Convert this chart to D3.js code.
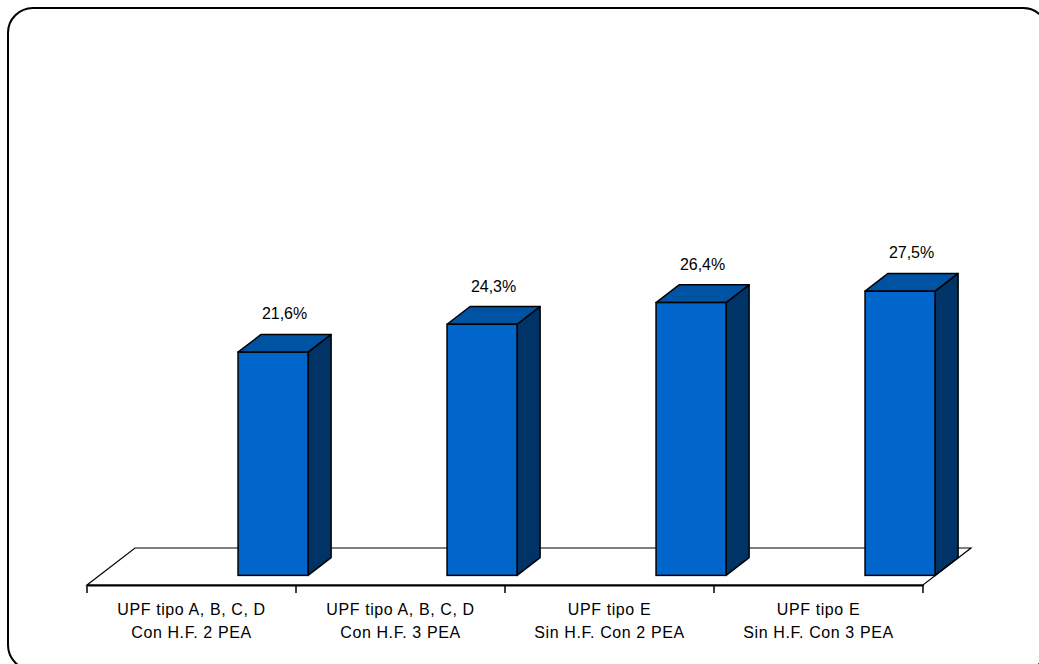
<!DOCTYPE html>
<html>
<head>
<meta charset="utf-8">
<script src="https://cdn.jsdelivr.net/npm/d3@7"></script>
<style>
  html, body { margin: 0; padding: 0; background: #fff; }
  svg { display: block; }
  text { font-family: Arial, "Liberation Sans", sans-serif; fill: #000; }
</style>
</head>
<body>
<svg id="chart" width="1039" height="664"></svg>
<script>
// ---- data ----
const categories = ["A", "B", "C", "D"];
const labelLine1 = ["UPF tipo A, B, C, D", "UPF tipo A, B, C, D", "UPF tipo E", "UPF tipo E"];
const labelLine2 = ["Con H.F. 2 PEA", "Con H.F. 3 PEA", "Sin H.F. Con 2 PEA", "Sin H.F. Con 3 PEA"];
const values = [21.6, 24.3, 26.4, 27.5];
const valueLabels = ["21,6%", "24,3%", "26,4%", "27,5%"];

// ---- layout ----
const svg = d3.select("#chart");
const floorFront = 585;          // front edge of floor
const depthDX = 48, depthDY = -37; // full floor depth projection
const barDepth0 = 0.26, barDepth1 = 0.74;
const barWidthFrac = 0.335, barStartFrac = 0.663;

const x = d3.scaleBand().domain(categories).range([87, 923]).padding(0);
const baseY = floorFront + depthDY * barDepth0; // bar front bottom
const y = d3.scaleLinear().domain([0, 30]).range([baseY, baseY - 310]);

const colFront = "#0066CC", colTop = "#0052A3", colSide = "#003366";

// outer rounded frame
svg.append("rect")
  .attr("x", 8).attr("y", 8).attr("width", 1040).attr("height", 662)
  .attr("rx", 25).attr("ry", 25)
  .attr("fill", "#fff").attr("stroke", "#000").attr("stroke-width", 2);

// floor
const x0 = x.range()[0], x1 = x.range()[1];
svg.append("path")
  .attr("d", `M${x0},${floorFront} L${x0 + depthDX},${floorFront + depthDY} L${x1 + depthDX},${floorFront + depthDY} L${x1},${floorFront} Z`)
  .attr("fill", "#fff").attr("stroke", "#000").attr("stroke-width", 1.2);

// category axis (front edge with ticks)
const axis = d3.axisBottom(x).tickSize(0).tickFormat("");
const axG = svg.append("g").attr("transform", `translate(0,${floorFront})`).call(axis);
axG.select(".domain").attr("stroke", "#000").attr("stroke-width", 2);
const tickPos = categories.map(c => x(c)).concat([x1]);
axG.selectAll("line.tk").data(tickPos).enter().append("line")
  .attr("class", "tk")
  .attr("x1", d => d).attr("x2", d => d)
  .attr("y1", 0).attr("y2", 8)
  .attr("stroke", "#000").attr("stroke-width", 1.5);

// category labels
const lab = svg.append("g");
categories.forEach((c, i) => {
  const cx = x(c) + x.bandwidth() / 2;
  const t = lab.append("text")
    .attr("text-anchor", "middle")
    .attr("font-size", 16)
    .attr("letter-spacing", 0.6);
  t.append("tspan").attr("x", cx).attr("y", 615).text(labelLine1[i]);
  t.append("tspan").attr("x", cx).attr("y", 638).text(labelLine2[i]);
});

// bars
const bw = x.bandwidth() * barWidthFrac;
const ddx = depthDX * (barDepth1 - barDepth0), ddy = depthDY * (barDepth1 - barDepth0);
const offX = depthDX * barDepth0;
const bars = svg.append("g").selectAll("g").data(values).enter().append("g");
bars.each(function (v, i) {
  const g = d3.select(this);
  const left = x(categories[i]) + x.bandwidth() * barStartFrac + offX;
  const right = left + bw;
  const top = y(v), bot = y(0);
  // side
  g.append("path")
    .attr("d", `M${right},${top} L${right + ddx},${top + ddy} L${right + ddx},${bot + ddy} L${right},${bot} Z`)
    .attr("fill", colSide).attr("stroke", "#000").attr("stroke-width", 1.5).attr("stroke-linejoin", "round");
  // top
  g.append("path")
    .attr("d", `M${left},${top} L${left + ddx},${top + ddy} L${right + ddx},${top + ddy} L${right},${top} Z`)
    .attr("fill", colTop).attr("stroke", "#000").attr("stroke-width", 1.5).attr("stroke-linejoin", "round");
  // front
  g.append("rect")
    .attr("x", left).attr("y", top).attr("width", bw).attr("height", bot - top)
    .attr("fill", colFront).attr("stroke", "#000").attr("stroke-width", 1.5);
  // value label
  g.append("text")
    .attr("x", left + bw / 2 + ddx / 2)
    .attr("y", top + ddy - 15)
    .attr("text-anchor", "middle")
    .attr("font-size", 16)
    .text(valueLabels[i]);
});
</script>
</body>
</html>
